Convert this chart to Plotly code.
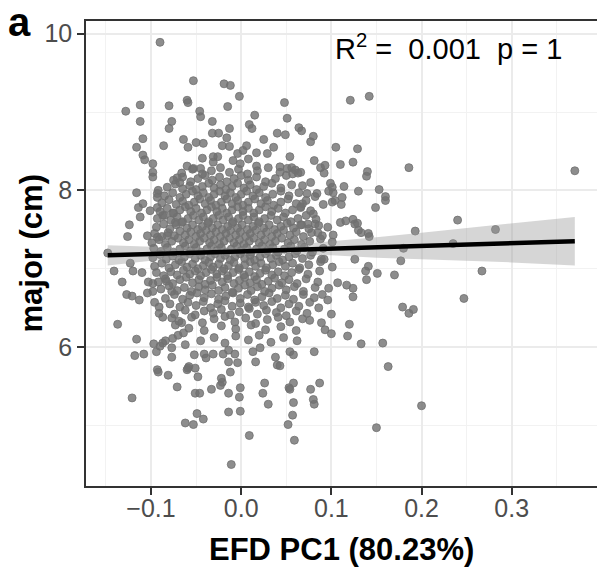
import plotly.graph_objects as go

# ---- data ----
upper_pts = [
    (-0.090, 9.89), (-0.053, 9.40), (-0.019, 9.36), (-0.012, 9.34), (-0.002, 9.20), (-0.128, 9.01),
    (-0.112, 9.09), (-0.080, 9.08), (-0.060, 9.15), (-0.059, 9.12), (-0.046, 9.01), (-0.045, 8.94),
    (-0.015, 9.07), (0.015, 8.96), (0.048, 9.12), (0.051, 8.92), (0.121, 9.15), (0.142, 9.20),
    (-0.112, 8.88), (-0.077, 8.88), (-0.080, 8.79), (-0.032, 8.88), (0.009, 8.84), (0.012, 8.79),
    (0.064, 8.80), (0.067, 8.76), (0.080, 8.69), (0.077, 8.62), (-0.109, 8.66), (-0.116, 8.55),
    (-0.086, 8.57), (-0.064, 8.65), (-0.059, 8.55), (-0.050, 8.61), (-0.042, 8.60), (-0.032, 8.73),
    (-0.025, 8.73), (-0.013, 8.79), (-0.016, 8.67), (-0.013, 8.56), (-0.021, 8.57), (0.025, 8.65),
    (0.036, 8.55), (0.040, 8.73), (0.049, 8.71), (0.006, 8.57), (0.105, 8.55), (0.129, 8.53),
    (-0.109, 8.45), (-0.107, 8.39), (-0.098, 8.34), (0.054, 8.43), (0.081, 8.38), (0.088, 8.29),
    (0.093, 8.32), (0.092, 8.22), (0.110, 8.33), (0.124, 8.36), (0.140, 8.24), (0.139, 8.18),
    (0.186, 8.29), (0.370, 8.25), (0.066, 8.23), (0.002, 8.51), (-0.004, 8.47), (0.017, 8.48),
    (0.029, 8.47), (-0.043, 8.41), (-0.031, 8.43), (-0.026, 8.43), (-0.031, 8.36), (-0.009, 8.38),
    (-0.001, 8.34), (0.008, 8.40), (0.017, 8.31), (-0.060, 8.31), (-0.053, 8.28), (-0.045, 8.28),
    (0.043, 8.30), (0.051, 8.28), (0.056, 8.29), (0.060, 8.26), (0.063, 8.22), (0.057, 8.21),
    (-0.098, 8.23), (-0.098, 8.17), (-0.071, 8.16), (-0.068, 8.10),
]

left_pts = [
    (-0.116, 7.97), (-0.092, 8.00), (-0.093, 7.96), (-0.093, 7.91), (-0.114, 7.78), (-0.109, 7.83),
    (-0.101, 7.74), (-0.093, 7.78), (-0.087, 7.68), (-0.076, 7.71), (-0.112, 7.66), (-0.124, 7.56),
    (-0.126, 7.41), (-0.104, 7.42), (-0.093, 7.40), (-0.082, 7.42), (-0.073, 7.59), (-0.148, 7.20),
    (-0.141, 6.97), (-0.132, 6.83), (-0.127, 6.67), (-0.121, 6.65), (-0.113, 6.60), (-0.137, 6.29),
    (-0.116, 6.10), (-0.118, 5.89), (-0.108, 5.91), (-0.121, 5.35), (-0.120, 6.97), (-0.110, 6.95),
    (-0.123, 7.07), (-0.103, 6.83), (-0.098, 6.71), (-0.104, 6.69), (-0.098, 6.81), (-0.083, 6.84),
    (-0.077, 6.71), (-0.096, 6.57), (-0.091, 6.51), (-0.091, 6.43), (-0.087, 6.38), (-0.077, 6.37),
    (-0.073, 6.28), (-0.066, 6.31),
]

lower_pts = [
    (-0.097, 6.04), (-0.094, 5.94), (-0.090, 6.01), (-0.084, 6.08), (-0.076, 6.11), (-0.070, 6.15),
    (-0.064, 6.18), (-0.087, 6.05), (-0.077, 5.87), (-0.077, 5.99), (-0.092, 5.68), (-0.081, 5.64),
    (-0.093, 5.71), (-0.071, 5.49), (-0.062, 6.03), (-0.060, 5.71), (-0.058, 5.75), (-0.048, 5.62),
    (-0.051, 5.41), (-0.046, 5.41), (-0.033, 5.46), (-0.021, 5.55), (-0.023, 5.51), (-0.014, 5.41),
    (-0.001, 5.48), (0.026, 5.54), (0.024, 5.41), (0.058, 5.54), (0.053, 5.48), (-0.041, 5.91),
    (-0.031, 5.91), (-0.020, 5.91), (-0.014, 5.81), (-0.004, 5.80), (-0.007, 5.91), (0.013, 5.94),
    (0.021, 5.99), (0.038, 5.87), (0.040, 5.77), (0.043, 5.76), (0.054, 5.94), (0.058, 5.90),
    (-0.052, 5.90), (-0.039, 5.86), (-0.014, 5.96), (0.016, 5.81), (-0.059, 5.73), (-0.051, 5.73),
    (-0.022, 5.60), (-0.012, 5.68), (-0.002, 5.36), (0.030, 5.27), (-0.014, 5.17), (-0.001, 5.18),
    (-0.049, 5.15), (-0.042, 5.08), (-0.053, 5.01), (-0.062, 5.03), (0.009, 4.87), (-0.011, 4.50),
    (0.058, 5.29), (0.057, 5.13), (0.052, 5.01), (0.059, 4.81), (0.081, 5.27), (0.150, 4.97),
    (0.200, 5.25), (0.054, 5.46), (0.077, 5.46), (0.087, 5.54), (0.080, 5.33), (0.163, 5.75),
    (0.081, 5.94), (0.133, 6.04), (0.157, 6.05), (0.118, 6.14), (-0.045, 6.08), (-0.030, 6.12),
    (-0.018, 6.05), (-0.006, 6.14), (0.008, 6.09), (0.020, 6.15), (0.033, 6.06), (0.047, 6.12),
    (0.062, 6.08),
]

right_pts = [
    (0.120, 6.29), (0.076, 6.34), (0.089, 6.31), (0.093, 6.22), (0.100, 6.17), (0.100, 6.42),
    (0.086, 6.50), (0.179, 6.51), (0.186, 6.43), (0.191, 6.48), (0.247, 6.62), (0.097, 6.75),
    (0.090, 6.67), (0.096, 6.60), (0.117, 6.79), (0.124, 6.75), (0.124, 6.64), (0.107, 6.82),
    (0.092, 7.12), (0.101, 7.02), (0.267, 6.97), (0.170, 6.92), (0.151, 6.94), (0.141, 7.03),
    (0.138, 6.97), (0.139, 6.86), (0.126, 7.12), (0.177, 7.10), (0.180, 7.26), (0.235, 7.32),
    (0.101, 7.34), (0.102, 7.43), (0.096, 7.53), (0.141, 7.45), (0.142, 7.41), (0.110, 7.59),
    (0.116, 7.61), (0.124, 7.63), (0.126, 7.57), (0.130, 7.49), (0.193, 7.48), (0.282, 7.50),
    (0.240, 7.62), (0.149, 7.78), (0.160, 7.87), (0.091, 7.82), (0.101, 7.85), (0.111, 7.82),
    (0.077, 8.10), (0.068, 8.06), (0.073, 7.96), (0.099, 8.09), (0.101, 8.04), (0.097, 7.99),
    (0.102, 7.97), (0.114, 8.05), (0.130, 7.99), (0.153, 8.01), (0.160, 7.92), (0.112, 7.91),
    (0.104, 7.87), (0.084, 7.96), (0.082, 7.92), (0.068, 7.83), (0.066, 7.78), (0.080, 7.70),
    (0.082, 7.57), (0.074, 7.57), (0.067, 7.56), (0.129, 7.58), (0.133, 7.46), (0.085, 7.46),
]

core_pts = [
    (-0.058, 6.24), (-0.041, 6.21), (-0.022, 6.27), (-0.006, 6.23), (0.011, 6.28), (0.027, 6.22), (0.044, 6.26), (0.061, 6.21),
    (-0.069, 6.33), (-0.055, 6.38), (-0.043, 6.31), (-0.030, 6.36), (-0.018, 6.39), (-0.007, 6.32), (0.005, 6.37), (0.016, 6.30),
    (0.029, 6.35), (0.041, 6.38), (0.054, 6.32), (0.068, 6.36),
    (-0.074, 6.42), (-0.062, 6.47), (-0.051, 6.41), (-0.041, 6.46), (-0.031, 6.43), (-0.022, 6.48), (-0.012, 6.41), (-0.002, 6.45),
    (0.009, 6.49), (0.018, 6.42), (0.028, 6.47), (0.039, 6.44), (0.050, 6.40), (0.061, 6.46), (0.073, 6.43),
    (-0.079, 6.55), (-0.068, 6.51), (-0.059, 6.57), (-0.050, 6.53), (-0.042, 6.58), (-0.034, 6.50), (-0.026, 6.55), (-0.018, 6.59),
    (-0.010, 6.52), (-0.001, 6.56), (0.008, 6.51), (0.016, 6.57), (0.025, 6.53), (0.034, 6.58), (0.044, 6.50), (0.053, 6.55),
    (0.064, 6.52), (0.076, 6.57),
    (-0.084, 6.62), (-0.074, 6.67), (-0.065, 6.61), (-0.057, 6.66), (-0.049, 6.69), (-0.041, 6.63), (-0.033, 6.68), (-0.025, 6.61),
    (-0.017, 6.65), (-0.009, 6.69), (-0.001, 6.62), (0.007, 6.67), (0.015, 6.60), (0.023, 6.64), (0.031, 6.69), (0.040, 6.62),
    (0.049, 6.66), (0.058, 6.61), (0.069, 6.67), (0.081, 6.63),
    (-0.089, 6.74), (-0.080, 6.78), (-0.071, 6.72), (-0.063, 6.76), (-0.055, 6.71), (-0.047, 6.77), (-0.040, 6.73), (-0.032, 6.79),
    (-0.025, 6.72), (-0.018, 6.76), (-0.010, 6.70), (-0.003, 6.75), (0.004, 6.79), (0.011, 6.72), (0.018, 6.77), (0.026, 6.71),
    (0.034, 6.75), (0.042, 6.79), (0.050, 6.73), (0.059, 6.77), (0.069, 6.71), (0.082, 6.76),
    (-0.092, 6.83), (-0.084, 6.87), (-0.076, 6.81), (-0.068, 6.86), (-0.061, 6.89), (-0.054, 6.82), (-0.047, 6.86), (-0.040, 6.80),
    (-0.034, 6.85), (-0.027, 6.89), (-0.021, 6.83), (-0.015, 6.87), (-0.008, 6.81), (-0.002, 6.85), (0.004, 6.89), (0.010, 6.82),
    (0.017, 6.86), (0.023, 6.80), (0.030, 6.84), (0.037, 6.88), (0.045, 6.82), (0.053, 6.86), (0.062, 6.81), (0.072, 6.87),
    (0.085, 6.83),
    (-0.094, 6.95), (-0.086, 6.91), (-0.078, 6.96), (-0.071, 6.92), (-0.064, 6.98), (-0.057, 6.93), (-0.051, 6.97), (-0.045, 6.91),
    (-0.039, 6.95), (-0.033, 6.99), (-0.027, 6.93), (-0.021, 6.97), (-0.015, 6.91), (-0.009, 6.95), (-0.003, 6.99), (0.003, 6.92),
    (0.009, 6.96), (0.015, 6.90), (0.021, 6.94), (0.027, 6.98), (0.034, 6.92), (0.041, 6.96), (0.048, 6.91), (0.056, 6.95),
    (0.064, 6.99), (0.074, 6.93), (0.087, 6.97),
    (-0.096, 7.03), (-0.088, 7.07), (-0.080, 7.01), (-0.073, 7.05), (-0.066, 7.09), (-0.060, 7.02), (-0.054, 7.06), (-0.048, 7.00),
    (-0.042, 7.04), (-0.036, 7.08), (-0.031, 7.02), (-0.025, 7.06), (-0.019, 7.00), (-0.014, 7.04), (-0.008, 7.08), (-0.002, 7.01),
    (0.004, 7.05), (0.010, 7.09), (0.016, 7.03), (0.022, 7.07), (0.028, 7.01), (0.035, 7.05), (0.042, 7.09), (0.049, 7.03),
    (0.057, 7.07), (0.065, 7.01), (0.075, 7.05), (0.088, 7.09),
    (-0.098, 7.14), (-0.090, 7.18), (-0.083, 7.12), (-0.076, 7.16), (-0.069, 7.11), (-0.063, 7.15), (-0.057, 7.19), (-0.051, 7.13),
    (-0.045, 7.17), (-0.040, 7.11), (-0.034, 7.15), (-0.029, 7.19), (-0.023, 7.13), (-0.018, 7.17), (-0.012, 7.11), (-0.007, 7.15),
    (-0.001, 7.19), (0.004, 7.13), (0.010, 7.17), (0.015, 7.11), (0.021, 7.15), (0.027, 7.19), (0.033, 7.13), (0.039, 7.17),
    (0.046, 7.11), (0.053, 7.15), (0.060, 7.19), (0.068, 7.13), (0.077, 7.17), (0.089, 7.12),
    (-0.097, 7.26), (-0.089, 7.22), (-0.082, 7.27), (-0.075, 7.21), (-0.068, 7.25), (-0.062, 7.29), (-0.056, 7.23), (-0.050, 7.27),
    (-0.044, 7.21), (-0.038, 7.25), (-0.033, 7.29), (-0.027, 7.23), (-0.022, 7.27), (-0.016, 7.21), (-0.011, 7.25), (-0.005, 7.29),
    (0.000, 7.23), (0.006, 7.27), (0.011, 7.21), (0.017, 7.25), (0.023, 7.29), (0.029, 7.23), (0.035, 7.27), (0.041, 7.21),
    (0.048, 7.25), (0.055, 7.29), (0.062, 7.23), (0.070, 7.27), (0.079, 7.21), (0.091, 7.26),
    (-0.099, 7.33), (-0.091, 7.37), (-0.084, 7.31), (-0.077, 7.35), (-0.070, 7.39), (-0.064, 7.33), (-0.058, 7.37), (-0.052, 7.31),
    (-0.046, 7.35), (-0.041, 7.39), (-0.035, 7.33), (-0.030, 7.37), (-0.024, 7.31), (-0.019, 7.35), (-0.013, 7.39), (-0.008, 7.33),
    (-0.002, 7.37), (0.003, 7.31), (0.009, 7.35), (0.014, 7.39), (0.020, 7.33), (0.026, 7.37), (0.032, 7.31), (0.038, 7.35),
    (0.045, 7.39), (0.052, 7.33), (0.059, 7.37), (0.067, 7.31), (0.076, 7.35), (0.088, 7.38),
    (-0.096, 7.45), (-0.088, 7.41), (-0.081, 7.46), (-0.074, 7.42), (-0.068, 7.48), (-0.062, 7.43), (-0.056, 7.47), (-0.050, 7.41),
    (-0.045, 7.45), (-0.039, 7.49), (-0.034, 7.43), (-0.028, 7.47), (-0.023, 7.41), (-0.017, 7.45), (-0.012, 7.49), (-0.006, 7.43),
    (-0.001, 7.47), (0.005, 7.41), (0.010, 7.45), (0.016, 7.49), (0.022, 7.43), (0.028, 7.47), (0.034, 7.41), (0.040, 7.45),
    (0.047, 7.49), (0.054, 7.43), (0.061, 7.47), (0.069, 7.41), (0.078, 7.46), (0.090, 7.42),
    (-0.094, 7.53), (-0.086, 7.57), (-0.079, 7.51), (-0.072, 7.56), (-0.066, 7.59), (-0.060, 7.52), (-0.054, 7.56), (-0.048, 7.50),
    (-0.043, 7.54), (-0.037, 7.58), (-0.032, 7.52), (-0.026, 7.56), (-0.021, 7.50), (-0.015, 7.54), (-0.010, 7.58), (-0.004, 7.52),
    (0.001, 7.56), (0.007, 7.50), (0.013, 7.54), (0.019, 7.58), (0.025, 7.52), (0.031, 7.56), (0.037, 7.50), (0.044, 7.54),
    (0.051, 7.58), (0.058, 7.52), (0.066, 7.56), (0.075, 7.51), (0.086, 7.55),
    (-0.093, 7.64), (-0.085, 7.68), (-0.078, 7.62), (-0.071, 7.66), (-0.065, 7.60), (-0.059, 7.64), (-0.053, 7.68), (-0.047, 7.62),
    (-0.042, 7.66), (-0.036, 7.60), (-0.031, 7.64), (-0.025, 7.68), (-0.020, 7.62), (-0.014, 7.66), (-0.009, 7.60), (-0.003, 7.64),
    (0.002, 7.68), (0.008, 7.62), (0.014, 7.66), (0.020, 7.60), (0.026, 7.64), (0.033, 7.68), (0.040, 7.62), (0.047, 7.66),
    (0.055, 7.60), (0.063, 7.64), (0.072, 7.68), (0.083, 7.63),
    (-0.090, 7.73), (-0.082, 7.77), (-0.075, 7.71), (-0.068, 7.75), (-0.062, 7.79), (-0.056, 7.73), (-0.050, 7.77), (-0.044, 7.71),
    (-0.038, 7.75), (-0.033, 7.79), (-0.027, 7.73), (-0.021, 7.77), (-0.016, 7.71), (-0.010, 7.75), (-0.004, 7.79), (0.002, 7.73),
    (0.008, 7.77), (0.014, 7.71), (0.020, 7.75), (0.027, 7.79), (0.034, 7.73), (0.041, 7.77), (0.049, 7.71), (0.057, 7.75),
    (0.066, 7.79), (0.077, 7.74),
    (-0.088, 7.84), (-0.080, 7.88), (-0.072, 7.82), (-0.065, 7.86), (-0.058, 7.81), (-0.052, 7.85), (-0.046, 7.89), (-0.040, 7.83),
    (-0.034, 7.87), (-0.028, 7.81), (-0.022, 7.85), (-0.016, 7.89), (-0.010, 7.83), (-0.004, 7.87), (0.002, 7.81), (0.008, 7.85),
    (0.015, 7.89), (0.022, 7.83), (0.029, 7.87), (0.036, 7.81), (0.044, 7.85), (0.052, 7.89), (0.061, 7.83), (0.072, 7.87),
    (-0.085, 7.93), (-0.076, 7.97), (-0.068, 7.91), (-0.061, 7.95), (-0.054, 7.99), (-0.048, 7.93), (-0.042, 7.97), (-0.036, 7.91),
    (-0.030, 7.95), (-0.024, 7.99), (-0.018, 7.93), (-0.012, 7.97), (-0.006, 7.91), (0.000, 7.95), (0.006, 7.99), (0.013, 7.93),
    (0.020, 7.97), (0.027, 7.91), (0.035, 7.95), (0.044, 7.99), (0.053, 7.93), (0.064, 7.97),
    (-0.082, 8.04), (-0.073, 8.08), (-0.065, 8.02), (-0.057, 8.06), (-0.050, 8.01), (-0.043, 8.05), (-0.036, 8.09), (-0.030, 8.03),
    (-0.023, 8.07), (-0.017, 8.01), (-0.010, 8.05), (-0.004, 8.09), (0.003, 8.03), (0.010, 8.07), (0.017, 8.01), (0.025, 8.05),
    (0.034, 8.09), (0.044, 8.03), (0.056, 8.07),
    (-0.075, 8.13), (-0.065, 8.17), (-0.056, 8.11), (-0.048, 8.15), (-0.040, 8.19), (-0.032, 8.13), (-0.024, 8.17), (-0.016, 8.11),
    (-0.008, 8.15), (0.000, 8.19), (0.008, 8.13), (0.017, 8.17), (0.027, 8.11), (0.038, 8.15), (0.050, 8.19),
    (-0.066, 8.22), (-0.054, 8.27), (-0.043, 8.21), (-0.033, 8.25), (-0.023, 8.29), (-0.013, 8.23), (-0.003, 8.27), (0.007, 8.21),
    (0.018, 8.25), (0.030, 8.29), (0.043, 8.23),
]

# linear fit and its confidence band
fit_x = [-0.148, -0.10, -0.05, 0.0, 0.05, 0.10, 0.15, 0.20, 0.25, 0.30, 0.370]
fit_y = [7.170, 7.186, 7.204, 7.221, 7.238, 7.256, 7.273, 7.290, 7.308, 7.325, 7.349]
fit_lo = [7.04, 7.10, 7.14, 7.18, 7.18, 7.17, 7.14, 7.12, 7.10, 7.08, 7.04]
fit_hi = [7.30, 7.28, 7.26, 7.27, 7.30, 7.35, 7.40, 7.46, 7.52, 7.58, 7.66]

x_ticks = [-0.1, 0.0, 0.1, 0.2, 0.3]
x_tick_labels = ["\u22120.1", "0.0", "0.1", "0.2", "0.3"]
x_minor = [-0.15, -0.05, 0.05, 0.15, 0.25, 0.35]
y_ticks = [6, 8, 10]
y_minor = [5, 7, 9]

stats_text = "R<sup>2</sup> =\u00a0\u00a00.001\u00a0\u00a0p = 1"

# ---- figure ----
all_pts = upper_pts + left_pts + lower_pts + right_pts + core_pts
px_ = [p[0] for p in all_pts]
py_ = [p[1] for p in all_pts]

FONT = "Liberation Sans, Arial, Helvetica, sans-serif"
W, H = 597, 568
L, R, T, B = 86, 0, 21, 82
pw, ph = W - L - R, H - T - B

fig = go.Figure()
fig.add_trace(go.Scatter(
    x=px_, y=py_, mode="markers", hoverinfo="skip",
    marker=dict(size=8, color="rgba(112,112,112,0.8)",
                line=dict(width=1, color="rgba(112,112,112,0.8)")),
))
fig.add_trace(go.Scatter(x=fit_x, y=fit_hi, mode="lines", line=dict(width=0), hoverinfo="skip"))
fig.add_trace(go.Scatter(x=fit_x, y=fit_lo, mode="lines", line=dict(width=0), fill="tonexty",
                         fillcolor="rgba(153,153,153,0.4)", hoverinfo="skip"))
fig.add_trace(go.Scatter(x=fit_x, y=fit_y, mode="lines", line=dict(width=4.5, color="black"), hoverinfo="skip"))

axis_common = dict(
    showgrid=True, gridcolor="#ebebeb", gridwidth=1.6, zeroline=False,
    showline=True, linecolor="#333333", linewidth=1.5,
    ticks="outside", ticklen=7, tickwidth=2, tickcolor="#333333",
    tickfont=dict(family=FONT, size=25, color="#4d4d4d"),
)
fig.update_xaxes(range=[-0.1721, 0.3946], tickvals=x_ticks, ticktext=x_tick_labels, mirror=True,
                 ticklabelstandoff=-8,
                 minor=dict(tickvals=x_minor, showgrid=True, gridcolor="#f2f2f2", gridwidth=1, ticks=""),
                 **axis_common)
fig.update_yaxes(range=[4.2255, 10.162], tickvals=y_ticks, ticktext=[str(v) for v in y_ticks],
                 minor=dict(tickvals=y_minor, showgrid=True, gridcolor="#f2f2f2", gridwidth=1, ticks=""),
                 **axis_common)

def paper_x(pxl):
    return (pxl - L) / pw

def paper_y(pyl):
    return (H - B - pyl) / ph

annotations = [
    dict(text="<b>EFD PC1 (80.23%)</b>", xref="paper", yref="paper", x=0.5, y=paper_y(549),
         xanchor="center", yanchor="middle", showarrow=False, font=dict(family=FONT, size=31, color="black")),
    dict(text="<b>major (cm)</b>", xref="paper", yref="paper", x=paper_x(31), y=0.5, textangle=-90,
         xanchor="center", yanchor="middle", showarrow=False, font=dict(family=FONT, size=31, color="black")),
    dict(text="<b>a</b>", xref="paper", yref="paper", x=paper_x(19), y=paper_y(22),
         xanchor="center", yanchor="middle", showarrow=False, font=dict(family=FONT, size=40, color="black")),
    dict(text=stats_text, xref="x", yref="paper", x=0.102, y=paper_y(47),
         xanchor="left", yanchor="middle", showarrow=False, font=dict(family=FONT, size=29, color="black")),
]

fig.update_layout(
    width=W, height=H, margin=dict(l=L, r=R, t=T, b=B),
    paper_bgcolor="white", plot_bgcolor="white", showlegend=False,
    annotations=annotations,
)
fig.write_html("out.html")
